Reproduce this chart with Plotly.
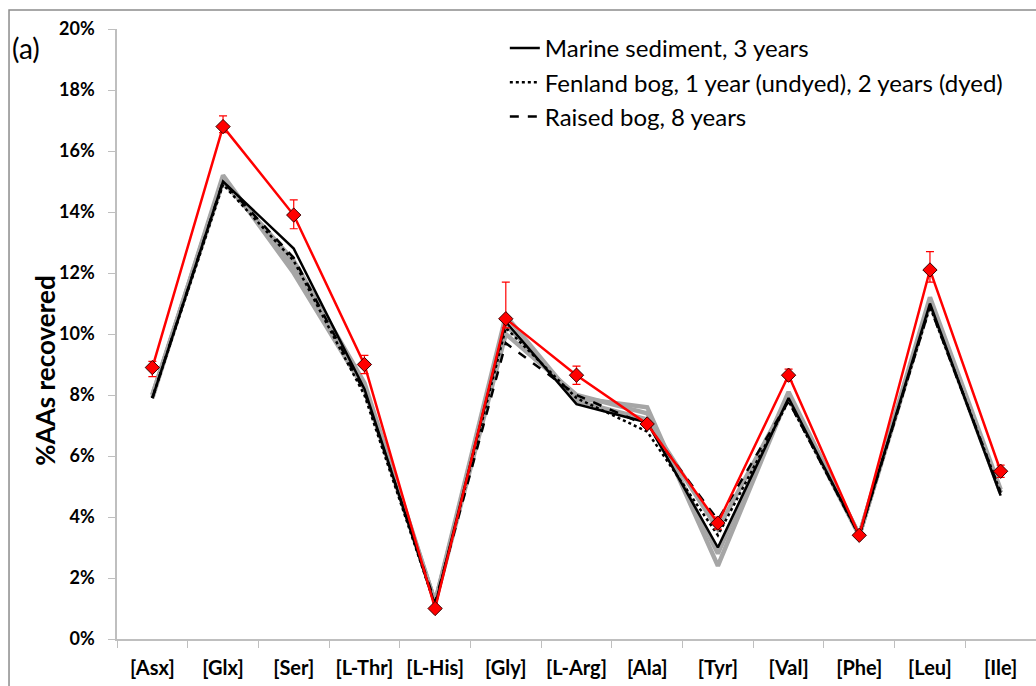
import plotly.graph_objects as go

categories = ["[Asx]", "[Glx]", "[Ser]", "[L-Thr]", "[L-His]", "[Gly]", "[L-Arg]",
              "[Ala]", "[Tyr]", "[Val]", "[Phe]", "[Leu]", "[Ile]"]

# Red reference series (%)
red_vals = [8.9, 16.8, 13.9, 9.0, 1.0, 10.5, 8.65, 7.05, 3.8, 8.65, 3.4, 12.1, 5.5]
red_err_plus = [0.2, 0.35, 0.5, 0.3, 0.05, 1.2, 0.3, 0.1, 0.2, 0.2, 0.05, 0.6, 0.2]
red_err_minus = [0.3, 0.2, 0.45, 0.3, 0.05, 0.3, 0.3, 0.1, 0.2, 0.2, 0.05, 0.4, 0.2]

# Black series (legend entries)
marine = [7.9, 15.0, 12.8, 8.2, 1.1, 10.4, 7.7, 7.1, 3.0, 7.9, 3.4, 11.0, 4.7]
fenland = [7.9, 14.9, 12.4, 8.0, 1.1, 10.2, 7.9, 6.8, 3.4, 7.8, 3.4, 10.9, 4.8]
raised = [7.9, 15.0, 12.5, 8.1, 1.2, 9.7, 8.0, 7.0, 3.9, 7.8, 3.4, 10.9, 4.8]

# Grey series (other samples)
grey_1 = [8.0, 15.1, 12.2, 8.3, 1.2, 10.3, 7.9, 7.6, 2.4, 8.0, 3.4, 11.1, 4.8]
grey_2 = [7.9, 15.2, 12.0, 8.2, 1.2, 10.0, 8.0, 7.4, 2.8, 8.1, 3.4, 11.2, 4.9]
grey_3 = [8.0, 15.0, 12.4, 8.4, 1.2, 10.6, 7.8, 7.2, 3.6, 7.9, 3.4, 11.0, 4.8]

legend_names = ["Marine sediment, 3 years",
                "Fenland bog, 1 year (undyed), 2 years (dyed)",
                "Raised bog, 8 years"]

FONT = "Lato"

fig = go.Figure()

for g in [grey_1, grey_2, grey_3]:
    fig.add_trace(go.Scatter(x=categories, y=g, mode="lines",
                             line=dict(color="#a6a6a6", width=4.5),
                             showlegend=False, hoverinfo="skip"))

fig.add_trace(go.Scatter(x=categories, y=marine, mode="lines", name=legend_names[0],
                         line=dict(color="black", width=2.5, dash="solid")))
fig.add_trace(go.Scatter(x=categories, y=fenland, mode="lines", name=legend_names[1],
                         line=dict(color="black", width=2.5, dash="dot")))
fig.add_trace(go.Scatter(x=categories, y=raised, mode="lines", name=legend_names[2],
                         line=dict(color="black", width=2.5, dash="dash")))

fig.add_trace(go.Scatter(x=categories, y=red_vals, mode="lines+markers",
                         line=dict(color="#ff0000", width=2.5),
                         marker=dict(symbol="diamond", size=11, color="#ff0000",
                                     line=dict(color="#3a0000", width=1)),
                         error_y=dict(type="data", symmetric=False, array=red_err_plus,
                                      arrayminus=red_err_minus, color="#ff0000",
                                      thickness=1.2, width=4),
                         showlegend=False))

fig.update_layout(
    width=1036, height=686,
    margin=dict(l=117, r=0, t=29, b=47),
    paper_bgcolor="white", plot_bgcolor="white",
    font=dict(family=FONT, color="black"),
    legend=dict(x=0.422, y=1.005, xanchor="left", yanchor="top",
                font=dict(size=24, family=FONT), bgcolor="rgba(0,0,0,0)",
                itemwidth=30, tracegroupgap=0),
    xaxis=dict(type="category", range=[-0.5, 12.5], showgrid=False,
               showline=True, linecolor="#bfbfbf", linewidth=1.5,
               ticks="outside", tickson="boundaries", ticklen=7, tickcolor="#bfbfbf",
               ticklabelstandoff=10,
               tickfont=dict(size=20, family=FONT, weight="bold")),
    yaxis=dict(range=[0, 20], dtick=2, ticksuffix="%", showgrid=False, zeroline=False,
               showline=True, linecolor="#bfbfbf", linewidth=1.5,
               ticks="outside", ticklen=7, tickcolor="#bfbfbf",
               ticklabelstandoff=10,
               tickfont=dict(size=18, family=FONT, weight="bold")),
    annotations=[
        dict(text="(a)", xref="paper", yref="paper", x=-0.1165, y=0.969,
             xanchor="left", yanchor="middle", showarrow=False,
             font=dict(size=28, family=FONT)),
        dict(text="%AAs recovered", xref="paper", yref="paper", x=-0.0783, y=0.44,
             xanchor="center", yanchor="middle", showarrow=False, textangle=-90,
             font=dict(size=26, family=FONT, weight="bold")),
    ],
    shapes=[dict(type="rect", xref="paper", yref="paper", x0=-0.1175, x1=1.02,
                 y0=-0.2, y1=1.031, line=dict(color="#8c8c8c", width=1.5),
                 fillcolor="rgba(0,0,0,0)", layer="below")],
)

fig.write_html("out.html")
